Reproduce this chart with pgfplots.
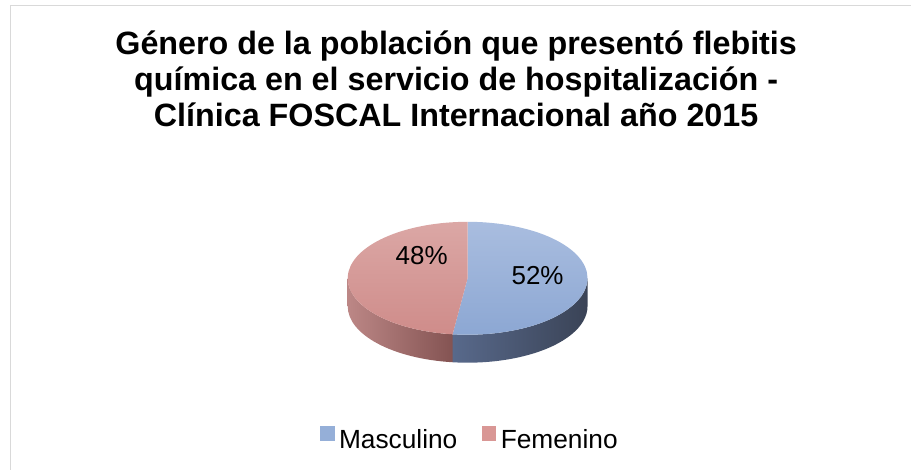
\documentclass[border=0pt]{standalone}
\usepackage{pgfplots}
\pgfplotsset{compat=1.18}
\usepackage{pgfplotstable}
\usepackage{fontspec}
\setmainfont{Liberation Sans}
\definecolor{mtopT}{HTML}{A9BDDF}
\definecolor{mtopB}{HTML}{8CA7D3}
\definecolor{ftopT}{HTML}{DBA7A5}
\definecolor{ftopB}{HTML}{CF8C8A}
\definecolor{msideL}{HTML}{58698B}
\definecolor{msideR}{HTML}{3A4356}
\definecolor{fsideL}{HTML}{BC8786}
\definecolor{fsideR}{HTML}{7C4C4B}
\definecolor{mleg}{HTML}{95AFD8}
\definecolor{fleg}{HTML}{D99795}
\definecolor{framegray}{HTML}{D9D9D9}

\pgfplotstableread{
label value
Masculino 52
Femenino 48
}\pietbl

\begin{document}
\begin{tikzpicture}
\pgfplotstablegetelem{0}{value}\of\pietbl \edef\valA{\pgfplotsretval}
\pgfplotstablegetelem{1}{value}\of\pietbl \edef\valB{\pgfplotsretval}
\pgfmathsetmacro\fracA{\valA/(\valA+\valB)}
\pgfmathsetmacro\angA{90-360*\fracA}
\def\rx{120pt}\def\ry{56.5pt}\def\dep{28pt}
\begin{axis}[width=912pt,height=470pt,scale only axis,
  xmin=0,xmax=912,ymin=0,ymax=470,hide axis,clip=false,
  legend image code/.code={\fill[#1,draw=none] (0pt,-1pt) rectangle (14.5pt,13.5pt);},
  legend style={at={(axis cs:471.5,31)},anchor=center,draw=none,fill=none,
    legend columns=2,font=\fontsize{26.3}{30}\selectfont,
    nodes={inner xsep=4.5pt,inner ysep=1pt},
    /tikz/every even column/.append style={column sep=20pt}},
]
\path (axis cs:0,0) rectangle (axis cs:912,470);
\draw[framegray,line width=1.5pt] (axis cs:10.5,0) -- (axis cs:10.5,464.5) -- (axis cs:912,464.5);
% sides
\shade[left color=msideL,right color=msideR] (axis cs:468,191.5) ++(\angA:120pt and 56.5pt)
  arc[start angle=\angA,end angle=0,x radius=\rx,y radius=\ry] -- ++(0,-\dep)
  arc[start angle=0,end angle=\angA,x radius=\rx,y radius=\ry] -- cycle;
\shade[left color=fsideL,right color=fsideR] (axis cs:468,191.5) ++(-180:120pt and 56.5pt)
  arc[start angle=-180,end angle=\angA,x radius=\rx,y radius=\ry] -- ++(0,-\dep)
  arc[start angle=\angA,end angle=-180,x radius=\rx,y radius=\ry] -- cycle;
% tops
\shade[top color=mtopT,bottom color=mtopB] (axis cs:468,191.5) -- ++(90:120pt and 56.5pt)
  arc[start angle=90,end angle=\angA,x radius=\rx,y radius=\ry] -- cycle;
\shade[top color=ftopT,bottom color=ftopB] (axis cs:468,191.5) -- ++(\angA:120pt and 56.5pt)
  arc[start angle=\angA,end angle=-270,x radius=\rx,y radius=\ry] -- cycle;
% labels
\node[font=\fontsize{26}{30}\selectfont] at (axis cs:538,194) {\valA\%};
\node[font=\fontsize{26}{30}\selectfont] at (axis cs:422,214) {\valB\%};
% title
\node[anchor=base,font=\fontsize{32.3}{36}\selectfont\bfseries] at (axis cs:456.5,415) {Género de la población que presentó flebitis};
\node[anchor=base,font=\fontsize{32.3}{36}\selectfont\bfseries] at (axis cs:456.5,379) {química en el servicio de hospitalización -};
\node[anchor=base,font=\fontsize{32.3}{36}\selectfont\bfseries] at (axis cs:456.5,343) {Clínica FOSCAL Internacional año 2015};
\addlegendimage{fill=mleg}
\addlegendentry{Masculino}
\addlegendimage{fill=fleg}
\addlegendentry{Femenino}
\end{axis}
\end{tikzpicture}
\end{document}
